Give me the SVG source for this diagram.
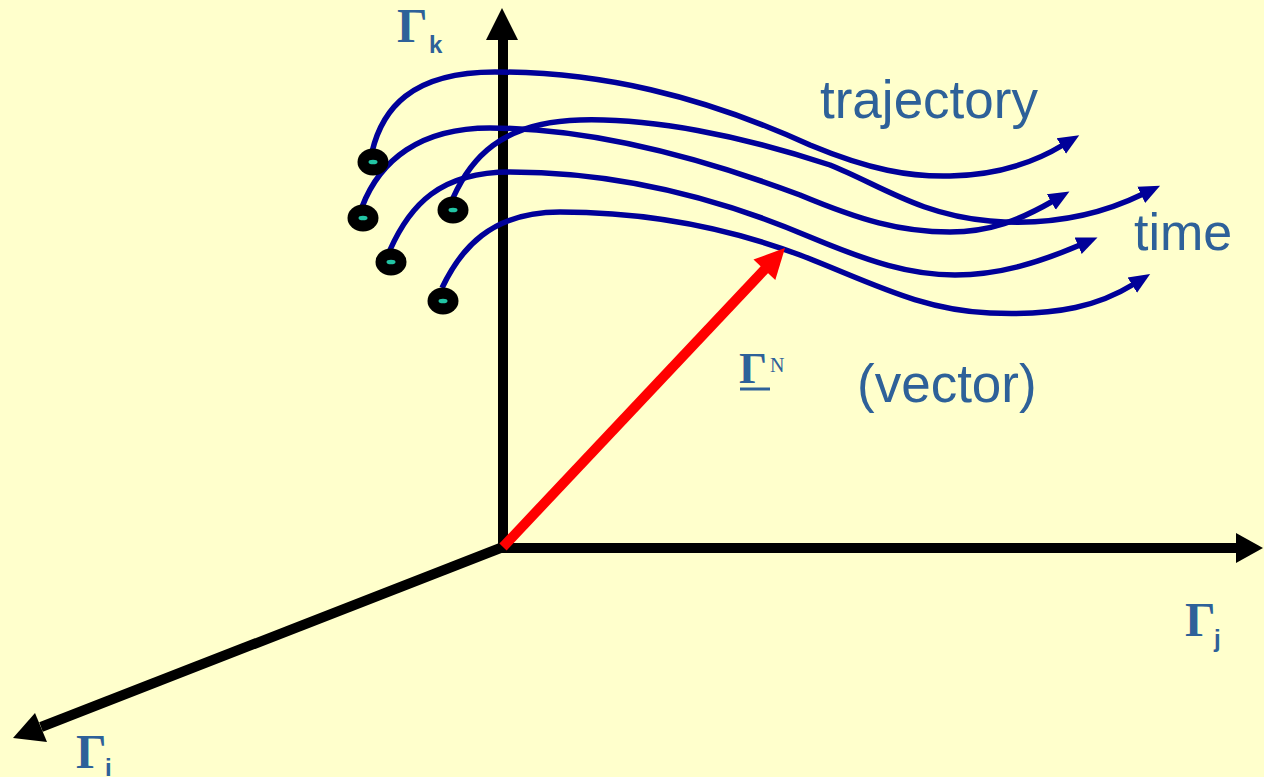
<svg xmlns="http://www.w3.org/2000/svg" width="1264" height="777" viewBox="0 0 1264 777">
<defs>
<style>
.axis{stroke:#000;stroke-width:10;fill:none}
.head{fill:#000}
.traj{stroke:#000099;stroke-width:5.5;fill:none;marker-end:url(#ah)}
.lbl{font-family:"Liberation Sans",Arial,sans-serif;fill:#2E6199}
.gam{font-family:"Liberation Serif","Times New Roman",serif;font-weight:bold;fill:#2E6199}
.sub{font-family:"Liberation Sans",Arial,sans-serif;font-weight:bold;fill:#2E6199}
.dot{fill:#000}
.core{fill:#22C4A4}
</style>
<marker id="ah" markerUnits="userSpaceOnUse" markerWidth="24" markerHeight="20" refX="2" refY="9" orient="auto" viewBox="0 0 24 18">
<path d="M0,0 L21,9 L0,18 z" fill="#000099"/>
</marker>
</defs>
<rect width="1264" height="777" fill="#FFFFCC"/>

<g id="axes">
<line class="axis" x1="503" y1="547" x2="503" y2="38"/>
<polygon class="head" points="502,8 486,40 518,40"/>
<line class="axis" x1="498" y1="548" x2="1238" y2="548"/>
<polygon class="head" points="1263,548 1236,533 1236,563"/>
<line class="axis" x1="503" y1="547" x2="41" y2="727"/>
<polygon class="head" points="13,738 35,713 47,742"/>
</g>

<g id="connectors">
<path class="traj" d="M372,152 C382,110 410,72 495,72 C600,72 700,95 810,145 C870,170 910,177 950,176 C1000,175 1035,162 1063,145"/>
<path class="traj" d="M453,198 C470,160 500,122 580,120 C650,118 740,135 830,165 C880,185 920,215 990,221 C1050,226 1100,215 1143,194"/>
<path class="traj" d="M362,207 C380,160 420,128 490,128 C580,128 680,150 800,195 C860,220 900,232 950,232 C990,232 1020,220 1053,201"/>
<path class="traj" d="M390,250 C410,205 440,172 510,172 C600,172 700,190 810,237 C870,262 910,275 955,275 C1000,275 1040,262 1080,245"/>
<path class="traj" d="M442,288 C460,250 490,212 560,212 C640,212 720,225 800,255 C870,282 920,310 990,313 C1060,316 1100,305 1134,284"/>
</g>

<g id="vector">
<line x1="503" y1="547" x2="766" y2="268" stroke="#FF0000" stroke-width="10"/>
<polygon points="785,248 775.3,280.1 753.5,259.5" fill="#FF0000"/>
</g>

<g id="dot1"><ellipse class="dot" cx="373" cy="162" rx="15.5" ry="13.5"/><ellipse class="core" cx="373" cy="162" rx="4.5" ry="2.3"/></g>
<g id="dot2"><ellipse class="dot" cx="363" cy="218" rx="15.5" ry="13.5"/><ellipse class="core" cx="363" cy="218" rx="4.5" ry="2.3"/></g>
<g id="dot3"><ellipse class="dot" cx="453" cy="210" rx="15.5" ry="13.5"/><ellipse class="core" cx="453" cy="210" rx="4.5" ry="2.3"/></g>
<g id="dot4"><ellipse class="dot" cx="391" cy="262" rx="15.5" ry="13.5"/><ellipse class="core" cx="391" cy="262" rx="4.5" ry="2.3"/></g>
<g id="dot5"><ellipse class="dot" cx="443" cy="301" rx="15.5" ry="13.5"/><ellipse class="core" cx="443" cy="301" rx="4.5" ry="2.3"/></g>

<g id="label-k"><text class="gam" x="397" y="42" font-size="48">Γ</text><text class="sub" x="429" y="53" font-size="24">k</text></g>
<g id="label-j"><text class="gam" x="1185" y="636" font-size="48">Γ</text><text class="sub" x="1214" y="647" font-size="24">j</text></g>
<g id="label-i"><text class="gam" x="76" y="768" font-size="48">Γ</text><text class="sub" x="105" y="776" font-size="24">i</text></g>
<g id="label-vec"><text class="gam" x="739" y="383" font-size="44">Γ</text><line x1="740" y1="389" x2="770" y2="389" stroke="#2E6199" stroke-width="3"/><text x="770" y="372" font-size="20" font-family="Liberation Serif,'Times New Roman',serif" fill="#2E6199">N</text></g>
<text class="lbl" x="820" y="118" font-size="53">trajectory</text>
<text class="lbl" x="1134" y="250" font-size="52">time</text>
<text class="lbl" x="857" y="402" font-size="53">(vector)</text>
</svg>
